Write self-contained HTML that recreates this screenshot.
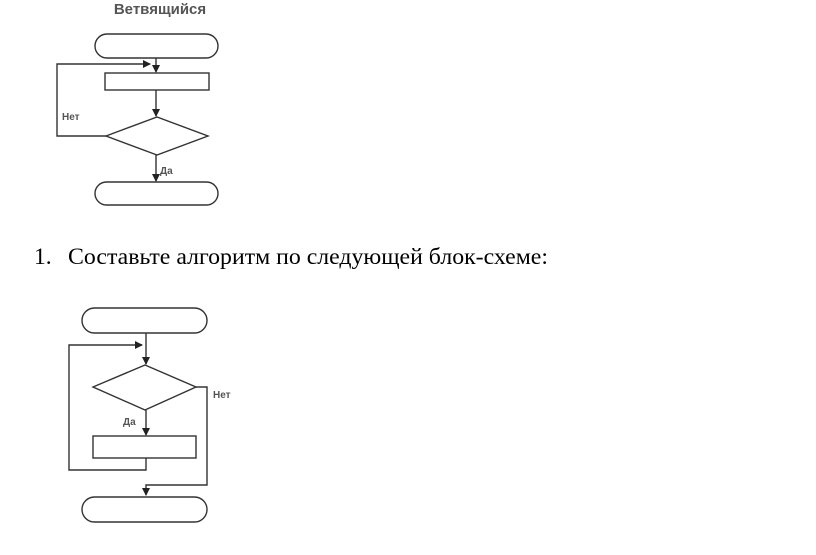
<!DOCTYPE html>
<html><head><meta charset="utf-8"><style>
body{margin:0;background:#fff;width:816px;height:555px;overflow:hidden}
svg{position:absolute;left:0;top:0}
</style></head><body>
<svg width="816" height="555" viewBox="0 0 816 555">
<defs><marker id="a" markerWidth="8" markerHeight="8" refX="7" refY="4" orient="auto" markerUnits="userSpaceOnUse"><path d="M0,0 L8,4 L0,8z" fill="#222"/></marker></defs>
<g fill="none" stroke="#333" stroke-width="1.4">
<text x="160" y="14" font-family="Liberation Sans, sans-serif" font-size="15" font-weight="bold" fill="#555" stroke="none" text-anchor="middle">Ветвящийся</text>
<rect x="95" y="34" width="123" height="24" rx="12"/>
<line x1="156" y1="58" x2="156" y2="72" marker-end="url(#a)"/>
<polyline points="106,136 57,136 57,64 150,64" marker-end="url(#a)"/>
<rect x="105" y="73" width="104" height="17"/>
<line x1="156" y1="90" x2="156" y2="116" marker-end="url(#a)"/>
<polygon points="106,136 157,117 208,136 157,155"/>
<line x1="156" y1="155" x2="156" y2="181" marker-end="url(#a)"/>
<rect x="95" y="182" width="123" height="23" rx="11.5"/>
<rect x="82" y="308" width="125" height="25" rx="12.5"/>
<line x1="146" y1="333" x2="146" y2="364" marker-end="url(#a)"/>
<polyline points="146,458 146,470 69,470 69,345 142,345" marker-end="url(#a)"/>
<polygon points="93,387 145,365 196,387 145,410"/>
<line x1="146" y1="410" x2="146" y2="435" marker-end="url(#a)"/>
<rect x="93" y="436" width="103" height="22"/>
<polyline points="196,387 207,387 207,485 146,485 146,495" marker-end="url(#a)"/>
<rect x="82" y="497" width="125" height="25" rx="12.5"/>
</g>
<g font-family="Liberation Sans, sans-serif" font-size="10" font-weight="bold" fill="#555">
<text x="62" y="120">Нет</text>
<text x="160" y="174">Да</text>
<text x="213" y="398">Нет</text>
<text x="123" y="425">Да</text>
</g>
<g font-family="Liberation Serif, serif" font-size="23.5" fill="#000">
<text x="34" y="264">1.</text>
<text x="68" y="264" textLength="480" lengthAdjust="spacingAndGlyphs">Составьте алгоритм по следующей блок-схеме:</text>
</g>
</svg>
</body></html>
